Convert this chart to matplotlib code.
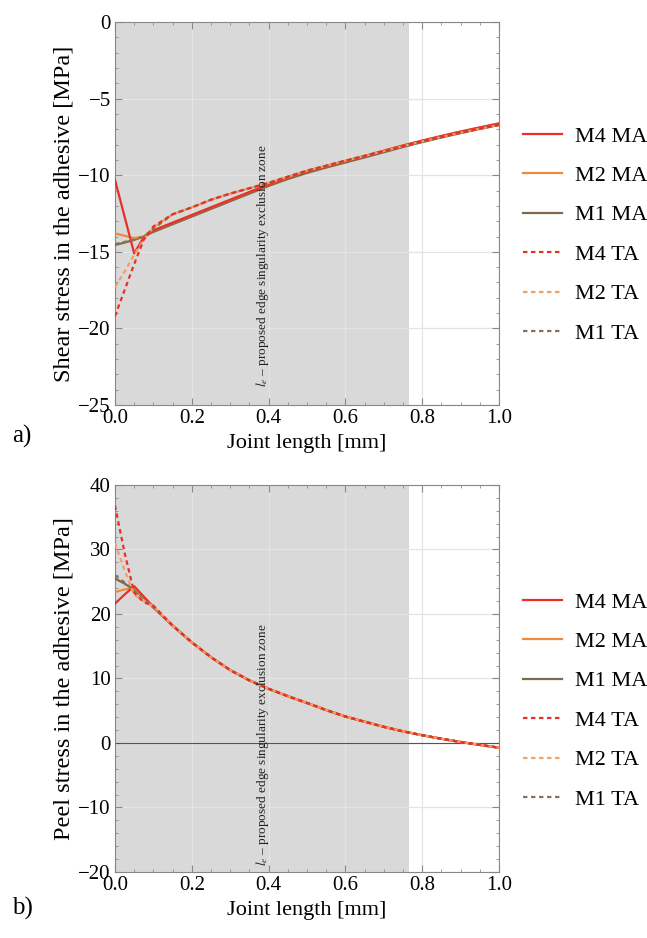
import matplotlib
matplotlib.use("Agg")
import matplotlib.pyplot as plt
from matplotlib.ticker import MultipleLocator

plt.rcParams["font.family"] = ["Liberation Serif", "DejaVu Serif"]
plt.rcParams["mathtext.fontset"] = "stix"

# joint positions [mm]
x_mesh = [0, 0.025, 0.05, 0.075, 0.1, 0.15, 0.2, 0.25, 0.3, 0.35, 0.4, 0.45,
          0.5, 0.55, 0.6, 0.65, 0.7, 0.75, 0.8, 0.85, 0.9, 0.95, 1.0]

# shear stress [MPa]
shear_ma_tail = [-13.2, -12.7, -12.2, -11.7, -11.2, -10.7, -10.25, -9.85, -9.5,
                 -9.17, -8.84, -8.5, -8.16, -7.84, -7.54, -7.25, -6.98, -6.72]
shear_ta_tail = [-12.55, -12.1, -11.6, -11.2, -10.85, -10.5, -10.1, -9.7, -9.38,
                 -9.05, -8.74, -8.42, -8.1, -7.8, -7.5, -7.22, -6.96, -6.72]
shear_m4_ma = [-10.3, -12.7, -15.1, -14.05, -13.6] + [v + 0.1 for v in shear_ma_tail]
shear_m2_ma = [-13.8, -13.95, -14.1, -14.0, -13.6] + [v + 0.1 for v in shear_ma_tail]
shear_m1_ma = [-14.55, -14.4, -14.22, -14.0, -13.7] + shear_ma_tail
shear_m4_ta = [-19.2, -17.5, -15.8, -14.2, -13.35] + shear_ta_tail
shear_m2_ta = [-17.3, -16.3, -15.2, -14.2, -13.4] + shear_ta_tail
shear_m1_ta = [-14.5, -14.35, -14.2, -14.0, -13.5] + shear_ta_tail

# peel stress [MPa]
peel_tail = [18.2, 15.6, 13.3, 11.3, 9.7, 8.4, 7.25, 6.2, 5.1, 4.1, 3.3, 2.5,
             1.8, 1.2, 0.65, 0.15, -0.3, -0.73]
peel_m4_ma = [21.6, 23.0, 24.3, 22.7, 21.1] + peel_tail
peel_m2_ma = [23.4, 23.8, 24.0, 22.6, 21.0] + peel_tail
peel_m1_ma = [25.5, 24.7, 23.7, 22.5, 21.0] + peel_tail
peel_m4_ta = [36.8, 29.5, 23.3, 21.8, 21.3] + peel_tail
peel_m2_ta = [31.0, 26.8, 23.0, 22.0, 21.2] + peel_tail
peel_m1_ta = [26.0, 24.9, 23.6, 22.4, 21.0] + peel_tail

labels = ["M4 MA", "M2 MA", "M1 MA", "M4 TA", "M2 TA", "M1 TA"]
colors = ["#e8302a", "#ef8a3c", "#7d6a4e", "#e8302a", "#f2a060", "#8a7258"]
styles = ["-", "-", "-", (0, (2, 1.6)), (0, (2, 1.6)), (0, (2, 1.6))]

zone_end = 0.765
note = r"$l_e$ – proposed edge singularity exclusion zone"

fig = plt.figure(figsize=(6.47, 9.38), dpi=100)
ax1 = fig.add_axes([0.1777, 0.5682, 0.5935, 0.4083])
ax2 = fig.add_axes([0.1777, 0.0704, 0.5935, 0.4126])


def style_axes(ax, ylim, major, minor, ylabel):
    ax.set_xlim(0, 1)
    ax.set_ylim(*ylim)
    ax.axvspan(0, zone_end, color="#d9d9d9", lw=0, zorder=0)
    ax.xaxis.set_major_locator(MultipleLocator(0.2))
    ax.xaxis.set_minor_locator(MultipleLocator(0.05))
    ax.yaxis.set_major_locator(MultipleLocator(major))
    ax.yaxis.set_minor_locator(MultipleLocator(minor))
    ax.xaxis.set_major_formatter(matplotlib.ticker.FormatStrFormatter("%.1f"))
    ax.grid(True, which="major", color="#e4e4e4", lw=0.9, zorder=1)
    ax.set_axisbelow(True)
    ax.tick_params(which="both", direction="in", top=True, right=True,
                   color="#888888", labelsize=15, pad=3)
    ax.tick_params(which="major", length=5)
    ax.tick_params(which="minor", length=2.5)
    for s in ax.spines.values():
        s.set_color("#888888")
        s.set_linewidth(0.8)
    ax.set_xlabel("Joint length [mm]", fontsize=16, labelpad=4)
    ax.set_ylabel(ylabel, fontsize=17.5, labelpad=3)


style_axes(ax1, (-25, 0), 5, 1, "Shear stress in the adhesive [MPa]")
style_axes(ax2, (-20, 40), 10, 2, "Peel stress in the adhesive [MPa]")
ax2.axhline(0, color="#555555", lw=0.8, zorder=1.5)

shear = [shear_m4_ma, shear_m2_ma, shear_m1_ma, shear_m4_ta, shear_m2_ta, shear_m1_ta]
peel = [peel_m4_ma, peel_m2_ma, peel_m1_ma, peel_m4_ta, peel_m2_ta, peel_m1_ta]
order = [2, 1, 0, 5, 4, 3]

for ax, data in ((ax1, shear), (ax2, peel)):
    for i in order:
        ax.plot(x_mesh, data[i], color=colors[i], ls=styles[i], lw=1.6,
                label=labels[i], zorder=3)

ax1.text(0.385, 0.047, note, transform=ax1.transAxes, rotation=90,
         ha="center", va="bottom", fontsize=9.5, color="#222222", zorder=4)
ax2.text(0.385, 0.016, note, transform=ax2.transAxes, rotation=90,
         ha="center", va="bottom", fontsize=9.5, color="#222222", zorder=4)

for ax, top in ((ax1, 126), (ax2, 592)):
    h, l = ax.get_legend_handles_labels()
    idx = [l.index(s) for s in labels]
    fig.legend([h[k] for k in idx], labels, loc="upper left",
               bbox_to_anchor=(523 / 647, 1 - top / 938), frameon=False,
               fontsize=16, handlelength=1.75, handletextpad=0.6,
               labelspacing=0.85, borderpad=0, borderaxespad=0)

fig.text(12 / 647, 1 - 436 / 938, "a)", fontsize=18, va="center", ha="left")
fig.text(12 / 647, 1 - 908 / 938, "b)", fontsize=18, va="center", ha="left")

fig.savefig("out.png", dpi=100)
